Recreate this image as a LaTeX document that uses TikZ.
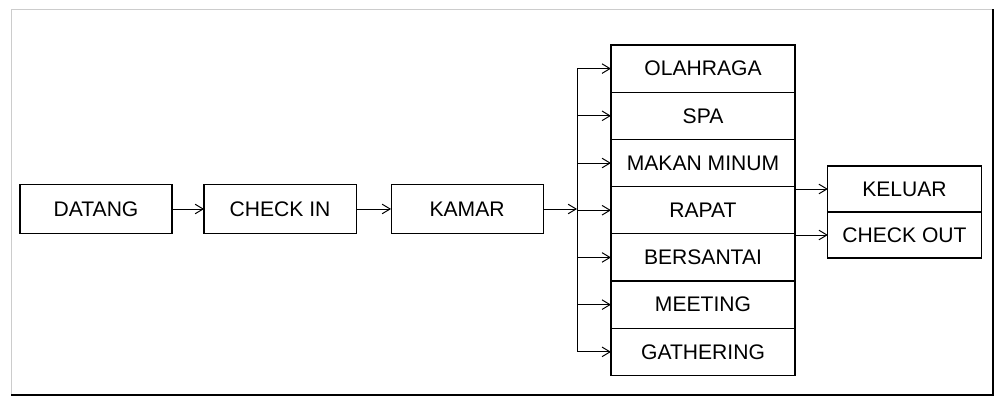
\documentclass[tikz,border=0pt]{standalone}
\usepackage{fontspec}
\setmainfont{Liberation Sans}
\usetikzlibrary{positioning,arrows.meta}

\begin{document}
\begin{tikzpicture}[
  x=0.025cm,y=-0.025cm,
  box/.style={draw, line width=0.8pt, minimum width=3.8cm, minimum height=1.22cm,
    inner sep=0pt, outer sep=0pt, font=\fontsize{15}{17}\selectfont},
  item/.style={box, minimum width=4.6cm, minimum height=1.18cm},
  exitbox/.style={box, minimum width=3.83cm, minimum height=1.15cm},
  arrow/.style={-{Straight Barb[length=2mm,width=2.4mm]}, line width=0.7pt}
]
\useasboundingbox (0,0) rectangle (1000,399);
% frame with shadowed lower and right edges
\draw[gray!40, line width=0.5pt] (11,395) -- (11,9) -- (993,9);
\draw[line width=1.5pt] (11,395) -- (993,395) -- (993,9);

% main flow
\node[box] (datang) at (96,209) {DATANG};
\node[box, right=0.8cm of datang] (checkin) {CHECK IN};
\node[box, right=0.875cm of checkin] (kamar) {KAMAR};

% activities
\node[item] (olahraga) at (703,68.6) {OLAHRAGA};
\node[item, below=0pt of olahraga] (spa) {SPA};
\node[item, below=0pt of spa] (makan) {MAKAN MINUM};
\node[item, below=0pt of makan] (rapat) {RAPAT};
\node[item, below=0pt of rapat] (bersantai) {BERSANTAI};
\node[item, below=0pt of bersantai] (meeting) {MEETING};
\node[item, below=0pt of meeting] (gathering) {GATHERING};

% leaving
\node[exitbox] (keluar) at (904.5,189) {KELUAR};
\node[exitbox, below=0pt of keluar] (checkout) {CHECK OUT};

\coordinate (split) at (577,209);

\draw[arrow] (datang) -- (checkin);
\draw[arrow] (checkin) -- (kamar);
\draw[arrow] (kamar) -- (split);
\draw[line width=0.5pt] (olahraga.west -| split) -- (gathering.west -| split);
\foreach \n in {olahraga,spa,makan,rapat,bersantai,meeting,gathering}
  \draw[arrow] (\n.west -| split) -- (\n.west);

\draw[arrow] (keluar.west -| rapat.east) -- (keluar.west);
\draw[arrow] (checkout.west -| rapat.east) -- (checkout.west);
\end{tikzpicture}
\end{document}
